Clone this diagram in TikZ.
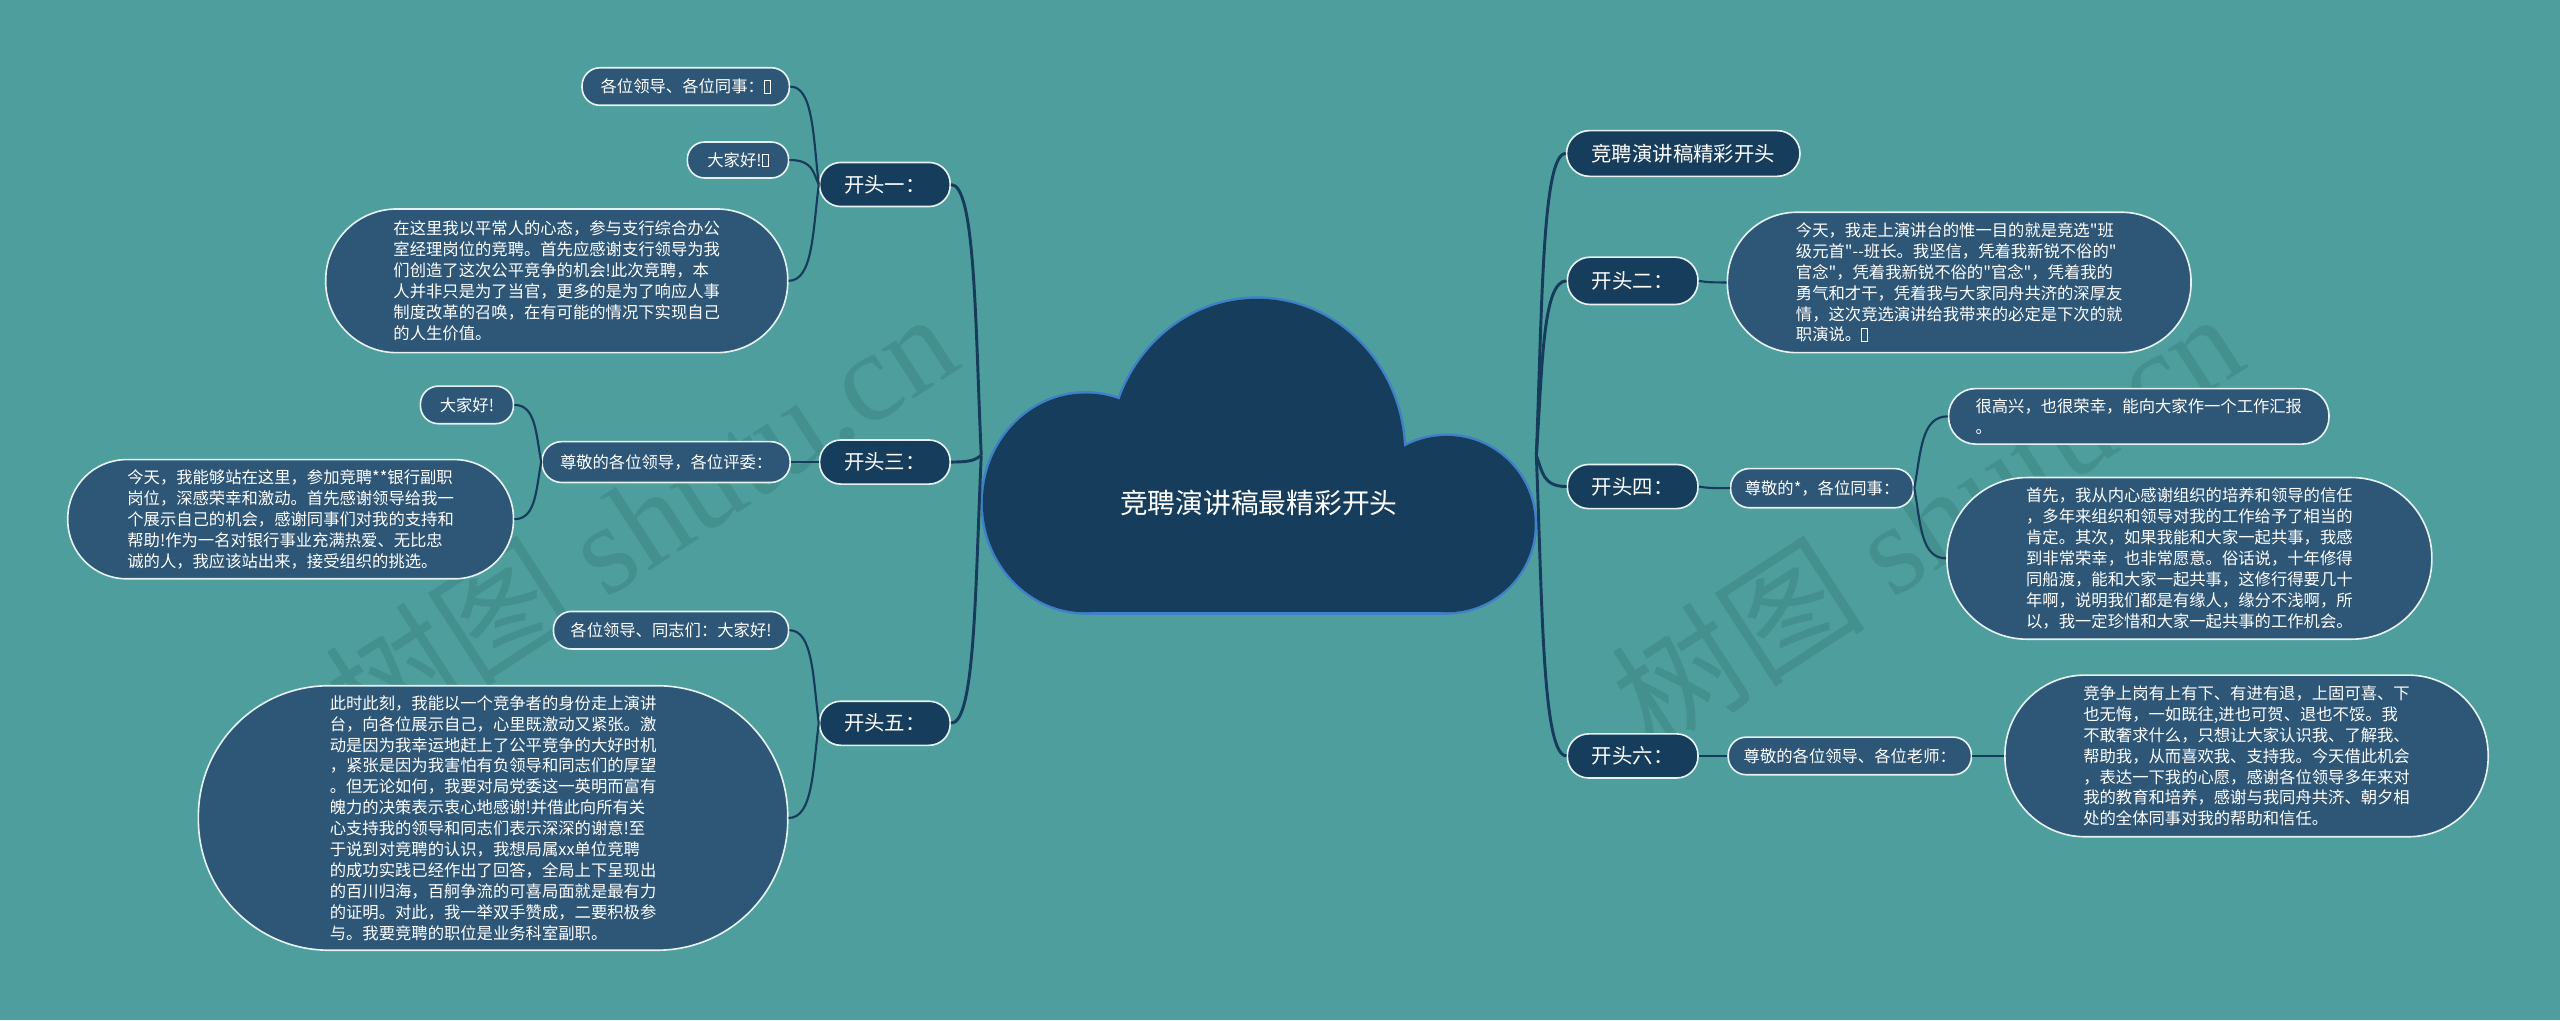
\documentclass[tikz,border=0pt]{standalone}
\usepackage{fontspec}
\setmainfont{Noto Sans CJK SC}
\newfontfamily\cjkplain{Noto Sans CJK SC}
\newfontfamily\wmserif{Liberation Serif}
\usetikzlibrary{calc}
\definecolor{bgteal}{HTML}{4E9E9E}
\definecolor{navy}{HTML}{173D5C}
\definecolor{boxblue}{HTML}{2D5677}
\definecolor{edgecol}{HTML}{173B5A}
\definecolor{rim}{HTML}{E6F2F2}
\definecolor{cloudrim}{HTML}{3F80C8}
\definecolor{wmcol}{HTML}{44908F}
\newcommand\tofubox{{\fboxsep=0pt\fboxrule=0.5pt\fbox{\rule{0pt}{0.72em}\hspace{0.32em}}}}
\newcommand\mmlink[3][]{\draw[link,#1] let \p1=(#2), \p2=(#3) in (\p1) .. controls ({\x1+0.2*(\x2-\x1)},{\y1+0.5*(\y2-\y1)}) and ({\x2+0.8*(\x1-\x2)},{\y2}) .. (\p2);}
\tikzset{
  lvlone/.style={shape=rectangle, fill=navy, draw=rim, line width=1pt, text=white,
    font=\cjkplain\fontsize{12.5}{15}\selectfont, inner sep=0pt, minimum width=80pt, minimum height=27pt, rounded corners=13pt},
  lvltwo/.style={shape=rectangle, fill=boxblue, draw=rim, line width=1pt, text=white,
    font=\cjkplain\fontsize{10}{12.8}\selectfont, inner sep=0pt, align=left},
  link/.style={draw=edgecol, line width=1.3pt},
  mainlink/.style={line width=1.8pt},
  wmark/.style={text=wmcol, rotate=33, font=\cjkplain\fontsize{78}{80}\selectfont, inner sep=0pt},
  cloudpart/.style={fill=navy},
  cloudedge/.style={draw=cloudrim, line width=3pt},
}
\begin{document}
\begin{tikzpicture}[x=1pt,y=-1pt]
\useasboundingbox (0,0) rectangle (1568,625);
\fill[bgteal] (0,0) rectangle (1568,625);
% watermarks
\node[wmark] (wmL) at (392,318) {树图 {\wmserif shutu.cn}};
\node[wmark] (wmR) at (1180,318) {树图 {\wmserif shutu.cn}};
% cloud: outline pass then fill pass
\path[cloudedge] (665,308) ellipse [x radius=63, y radius=67];
\path[cloudedge] (770,278) ellipse [x radius=90, y radius=95];
\path[cloudedge] (886,321) circle [radius=54];
\path[cloudedge] (665,290) rectangle (886,375);
\path[cloudpart] (665,308) ellipse [x radius=63, y radius=67];
\path[cloudpart] (770,278) ellipse [x radius=90, y radius=95];
\path[cloudpart] (886,321) circle [radius=54];
\path[cloudpart] (665,290) rectangle (886,375);
\node[text=white, font=\cjkplain\fontsize{17}{20}\selectfont] (root) at (771,308) {竞聘演讲稿最精彩开头};
\coordinate (L) at (601,279);
\coordinate (R) at (941,279);
% level one
\node[lvlone] (k1) at (542,113) {开头一：};
\node[lvlone] (k3) at (542,283) {开头三：};
\node[lvlone] (k5) at (542,443) {开头五：};
\node[lvlone, minimum width=143pt, minimum height=28pt, rounded corners=14pt] (t0) at (1031,94) {竞聘演讲稿精彩开头};
\node[lvlone, minimum height=29pt, rounded corners=14pt] (k2) at (1000,172) {开头二：};
\node[lvlone] (k4) at (1000,298) {开头四：};
\node[lvlone] (k6) at (1000,463) {开头六：};
% left level two
\node[lvltwo, minimum width=127pt, minimum height=23pt, rounded corners=11pt] (a1) at (420,53) {各位领导、各位同事：\tofubox};
\node[lvltwo, minimum width=62pt, minimum height=22pt, rounded corners=10.5pt] (a2) at (452,98) {大家好!\tofubox};
\node[lvltwo, minimum width=283pt, minimum height=88pt, rounded corners=43.5pt] (A3) at (341,172) {在这里我以平常人的心态，参与支行综合办公\\室经理岗位的竞聘。首先应感谢支行领导为我\\们创造了这次公平竞争的机会!此次竞聘，本\\人并非只是为了当官，更多的是为了响应人事\\制度改革的召唤，在有可能的情况下实现自己\\的人生价值。};
\node[lvltwo, minimum width=152pt, minimum height=25pt, rounded corners=12pt] (b1) at (408,283) {尊敬的各位领导，各位评委：};
\node[lvltwo, minimum width=57pt, minimum height=23pt, rounded corners=11pt] (b1a) at (286,248) {大家好!};
\node[lvltwo, minimum width=273pt, minimum height=73pt, rounded corners=36pt] (B2) at (178,318) {今天，我能够站在这里，参加竞聘**银行副职\\岗位，深感荣幸和激动。首先感谢领导给我一\\个展示自己的机会，感谢同事们对我的支持和\\帮助!作为一名对银行事业充满热爱、无比忠\\诚的人，我应该站出来，接受组织的挑选。};
\node[lvltwo, minimum width=144pt, minimum height=23pt, rounded corners=11pt] (c1) at (411,386) {各位领导、同志们：大家好!};
\node[lvltwo, minimum width=361pt, minimum height=162pt, rounded corners=80pt] (C2) at (302,501) {此时此刻，我能以一个竞争者的身份走上演讲\\台，向各位展示自己，心里既激动又紧张。激\\动是因为我幸运地赶上了公平竞争的大好时机\\，紧张是因为我害怕有负领导和同志们的厚望\\。但无论如何，我要对局党委这一英明而富有\\魄力的决策表示衷心地感谢!并借此向所有关\\心支持我的领导和同志们表示深深的谢意!至\\于说到对竞聘的认识，我想局属xx单位竞聘\\的成功实践已经作出了回答，全局上下呈现出\\的百川归海，百舸争流的可喜局面就是最有力\\的证明。对此，我一举双手赞成，二要积极参\\与。我要竞聘的职位是业务科室副职。};
% right level two
\node[lvltwo, minimum width=284pt, minimum height=86pt, rounded corners=42.5pt] (K2) at (1200,173) {今天，我走上演讲台的惟一目的就是竞选"班\\级元首"--班长。我坚信，凭着我新锐不俗的"\\官念"，凭着我新锐不俗的"官念"，凭着我的\\勇气和才干，凭着我与大家同舟共济的深厚友\\情，这次竞选演讲给我带来的必定是下次的就\\职演说。\tofubox};
\node[lvltwo, minimum width=112pt, minimum height=24pt, rounded corners=11.5pt] (d1) at (1116,299) {尊敬的*，各位同事：};
\node[lvltwo, minimum width=233pt, minimum height=34pt, rounded corners=16.5pt] (d1a) at (1310,255) {很高兴，也很荣幸，能向大家作一个工作汇报\\。};
\node[lvltwo, minimum width=297pt, minimum height=99pt, rounded corners=49pt] (D2) at (1341,342) {首先，我从内心感谢组织的培养和领导的信任\\，多年来组织和领导对我的工作给予了相当的\\肯定。其次，如果我能和大家一起共事，我感\\到非常荣幸，也非常愿意。俗话说，十年修得\\同船渡，能和大家一起共事，这修行得要几十\\年啊，说明我们都是有缘人，缘分不浅啊，所\\以，我一定珍惜和大家一起共事的工作机会。};
\node[lvltwo, minimum width=149pt, minimum height=23pt, rounded corners=11pt] (e1) at (1133,463) {尊敬的各位领导、各位老师：};
\node[lvltwo, minimum width=296pt, minimum height=99pt, rounded corners=49pt] (E2) at (1376,463) {竞争上岗有上有下、有进有退，上固可喜、下\\也无悔，一如既往,进也可贺、退也不馁。我\\不敢奢求什么，只想让大家认识我、了解我、\\帮助我，从而喜欢我、支持我。今天借此机会\\，表达一下我的心愿，感谢各位领导多年来对\\我的教育和培养，感谢与我同舟共济、朝夕相\\处的全体同事对我的帮助和信任。};
% connectors from root
\mmlink[mainlink]{L}{k1.east}
\mmlink[mainlink]{L}{k3.east}
\mmlink[mainlink]{L}{k5.east}
\mmlink[mainlink]{R}{t0.west}
\mmlink[mainlink]{R}{k2.west}
\mmlink[mainlink]{R}{k4.west}
\mmlink[mainlink]{R}{k6.west}
% left sub connectors
\mmlink{k1.west}{a1.east}
\mmlink{k1.west}{a2.east}
\mmlink{k1.west}{A3.east}
\mmlink{k3.west}{b1.east}
\mmlink{b1.west}{b1a.east}
\mmlink{b1.west}{B2.east}
\mmlink{k5.west}{c1.east}
\mmlink{k5.west}{C2.east}
% right sub connectors
\mmlink{k2.east}{K2.west}
\mmlink{k4.east}{d1.west}
\mmlink{d1.east}{d1a.west}
\mmlink{d1.east}{D2.west}
\mmlink{k6.east}{e1.west}
\mmlink{e1.east}{E2.west}
\end{tikzpicture}
\end{document}
